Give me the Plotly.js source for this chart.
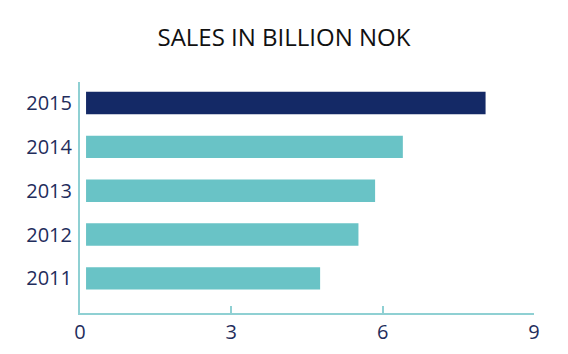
<!DOCTYPE html>
<html>
<head>
<meta charset="utf-8">
<script src="https://cdn.plot.ly/plotly-3.0.1.min.js"></script>
<style>html,body{margin:0;padding:0;background:#fff;}#chart{width:568px;height:354px;}</style>
</head>
<body>
<div id="chart"></div>
<script>
const years = ["2011", "2012", "2013", "2014", "2015"];
const sales = [4.76, 5.52, 5.85, 6.40, 8.04];
const barColors = ["#69c3c6", "#69c3c6", "#69c3c6", "#69c3c6", "#142966"];
const xTicks = [0, 3, 6, 9];
const titleText = "SALES IN BILLION NOK";

const BASE = 0.12;
const trace = {
  type: "bar",
  orientation: "h",
  y: years,
  x: sales.map(v => v - BASE),
  base: BASE,
  marker: {color: barColors, line: {width: 0}},
  width: 0.51,
  hoverinfo: "none"
};

const layout = {
  width: 568, height: 354,
  margin: {l: 80, r: 34, t: 82, b: 41, pad: 0},
  paper_bgcolor: "#fff", plot_bgcolor: "#fff",
  font: {family: "Open Sans, sans-serif", color: "#1f2d5c"},
  title: {text: titleText, font: {size: 24, color: "#111", family: "Open Sans, sans-serif"}, x: 0.5, xanchor: "center", y: 0.893, yanchor: "middle"},
  showlegend: false,
  xaxis: {
    range: [0, 9], tickvals: xTicks, ticktext: xTicks.map(String),
    showgrid: false, zeroline: false,
    showline: true, linecolor: "#8fd0d3", linewidth: 2,
    ticks: "inside", ticklen: 7, tickcolor: "#8fd0d3", tickwidth: 2,
    tickfont: {size: 20, color: "#1f2d5c"}, ticklabelstandoff: 0
  },
  yaxis: {
    type: "category", range: [-0.79, 4.48],
    showgrid: false, zeroline: false,
    showline: true, linecolor: "#8fd0d3", linewidth: 2,
    ticks: "", tickfont: {size: 20, color: "#1f2d5c"}, ticklabelstandoff: 2
  }
};

Plotly.newPlot("chart", [trace], layout, {staticPlot: true, displayModeBar: false});
</script>
</body>
</html>
